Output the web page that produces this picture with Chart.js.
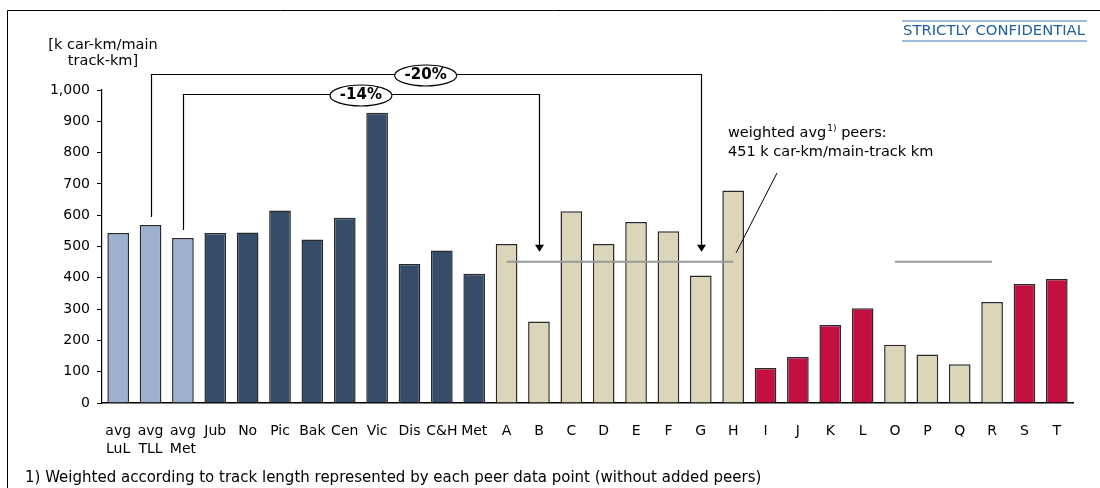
<!DOCTYPE html>
<html>
<head>
<meta charset="utf-8">
<script src="https://cdn.jsdelivr.net/npm/chart.js@4/dist/chart.umd.min.js"></script>
<style>
  html, body { margin: 0; padding: 0; background: #fff; }
  #wrap { width: 1100px; height: 488px; position: relative; }
</style>
</head>
<body>
<div id="wrap"><canvas id="chart" width="1100" height="488"></canvas></div>
<script>
// data
const categories = [['avg', 'LuL'], ['avg', 'TLL'], ['avg', 'Met'], 'Jub', 'No', 'Pic', 'Bak', 'Cen', 'Vic', 'Dis', 'C&H', 'Met',
    'A', 'B', 'C', 'D', 'E', 'F', 'G', 'H', 'I', 'J', 'K', 'L', 'O', 'P', 'Q', 'R', 'S', 'T'];
const values = [543, 569, 527, 543, 545, 615, 522, 592, 927, 444, 487, 413,
    508, 260, 613, 508, 578, 549, 407, 679, 112, 147, 249, 303, 186, 155, 124, 323, 380, 396];
const groups = ['avg', 'avg', 'avg', 'line', 'line', 'line', 'line', 'line', 'line', 'line', 'line', 'line',
    'peer', 'peer', 'peer', 'peer', 'peer', 'peer', 'peer', 'peer', 'added', 'added', 'added', 'added',
    'peer', 'peer', 'peer', 'peer', 'added', 'added'];
const peerAvg = [null, null, null, null, null, null, null, null, null, null, null, null,
    451, 451, 451, 451, 451, 451, 451, 451, null, null, null, null,
    451, 451, 451, 451, null, null];
const yTicks = [0, 100, 200, 300, 400, 500, 600, 700, 800, 900, 1000];

// bracket comparisons: from bar index -> to bar index
const brackets = [
    { from: 1, to: 18, level: 1051, labelAt: 9.5, label: '-20%' },
    { from: 2, to: 13, level: 987, labelAt: 7.5, label: '-14%' }
];

const groupColors = {
    avg: '#9DB0CF',
    line: '#364C6B',
    peer: '#DBD6BA',
    added: '#C20F3F'
};

const FONT = '"DejaVu Sans", Verdana, sans-serif';

const annotations = {
    id: 'annotations',
    beforeDraw(chart) {
        const ctx = chart.ctx;
        ctx.save();
        ctx.fillStyle = '#fff';
        ctx.fillRect(0, 0, chart.width, chart.height);
        ctx.restore();
    },
    afterDraw(chart) {
        const ctx = chart.ctx;
        const x = chart.scales.x;
        const y = chart.scales.y;
        ctx.save();

        // page frame
        ctx.strokeStyle = '#000';
        ctx.lineWidth = 1;
        ctx.beginPath();
        ctx.moveTo(7.5, 488);
        ctx.lineTo(7.5, 10.5);
        ctx.lineTo(1100, 10.5);
        ctx.stroke();

        // confidential stamp
        ctx.fillStyle = '#1F5FA0';
        ctx.font = '14.8px ' + FONT;
        ctx.textAlign = 'left';
        ctx.textBaseline = 'middle';
        ctx.fillText('STRICTLY CONFIDENTIAL', 903, 31);
        ctx.strokeStyle = '#7FA6CF';
        ctx.lineWidth = 1.5;
        ctx.beginPath();
        ctx.moveTo(902, 21); ctx.lineTo(1087, 21);
        ctx.moveTo(902, 41); ctx.lineTo(1087, 41);
        ctx.stroke();

        // axis unit
        ctx.fillStyle = '#000';
        ctx.font = '14.5px ' + FONT;
        ctx.textAlign = 'center';
        ctx.fillText('[k car-km/main', 103, 45);
        ctx.fillText('track-km]', 103, 61);

        // brackets with arrows
        ctx.strokeStyle = '#000';
        ctx.fillStyle = '#000';
        ctx.lineWidth = 1.2;
        brackets.forEach(b => {
            const x0 = Math.round(x.getPixelForValue(b.from)) + 0.5;
            const x1 = Math.round(x.getPixelForValue(b.to)) + 0.5;
            const yl = Math.round(y.getPixelForValue(b.level)) + 0.5;
            const y0 = y.getPixelForValue(values[b.from]) - 8;
            const tip = y.getPixelForValue(483);
            ctx.beginPath();
            ctx.moveTo(x0, y0);
            ctx.lineTo(x0, yl);
            ctx.lineTo(x1, yl);
            ctx.lineTo(x1, tip - 6);
            ctx.stroke();
            ctx.beginPath();
            ctx.moveTo(x1 - 4.5, tip - 7);
            ctx.lineTo(x1 + 4.5, tip - 7);
            ctx.lineTo(x1, tip);
            ctx.closePath();
            ctx.fill();

            const lx = (x.getPixelForValue(Math.floor(b.labelAt)) + x.getPixelForValue(Math.ceil(b.labelAt))) / 2;
            ctx.beginPath();
            ctx.ellipse(lx, yl + 1, 31, 10.5, 0, 0, Math.PI * 2);
            ctx.fillStyle = '#fff';
            ctx.fill();
            ctx.stroke();
            ctx.fillStyle = '#000';
            ctx.font = 'bold 15px ' + FONT;
            ctx.textAlign = 'center';
            ctx.fillText(b.label, lx, yl + 1);
        });

        // weighted average callout
        ctx.font = '14.5px ' + FONT;
        ctx.textAlign = 'left';
        let tx = 728;
        ctx.fillText('weighted avg', tx, 133);
        tx += ctx.measureText('weighted avg').width + 1;
        ctx.font = '9px ' + FONT;
        ctx.fillText('1)', tx, 129);
        tx += ctx.measureText('1)').width;
        ctx.font = '14.5px ' + FONT;
        ctx.fillText(' peers:', tx, 133);
        ctx.fillText('451 k car-km/main-track km', 728, 152);

        ctx.lineWidth = 1;
        ctx.beginPath();
        ctx.moveTo(777, 173);
        ctx.lineTo(x.getPixelForValue(19) + 3, y.getPixelForValue(480));
        ctx.stroke();

        // footnote
        ctx.font = '15px ' + FONT;
        ctx.fillText('1) Weighted according to track length represented by each peer data point (without added peers)', 25, 478);

        ctx.restore();
    }
};

new Chart(document.getElementById('chart'), {
    data: {
        labels: categories,
        datasets: [
            {
                type: 'line',
                data: peerAvg,
                borderColor: '#999999',
                borderWidth: 2,
                pointRadius: 0,
                spanGaps: false,
                order: 0
            },
            {
                type: 'bar',
                data: values,
                backgroundColor: groups.map(g => groupColors[g]),
                borderColor: '#2A2A2A',
                borderWidth: 1.5,
                barPercentage: 0.67,
                categoryPercentage: 1,
                order: 1
            }
        ]
    },
    options: {
        responsive: false,
        animation: false,
        devicePixelRatio: 1,
        layout: { padding: { left: 0, right: 27, top: 90, bottom: 0 } },
        plugins: {
            legend: { display: false },
            tooltip: { enabled: false }
        },
        scales: {
            x: {
                grid: { display: false },
                border: { display: true, color: '#000', width: 1.5 },
                ticks: {
                    color: '#000',
                    font: { family: FONT, size: 14, lineHeight: 1.3 },
                    padding: 11,
                    maxRotation: 0,
                    autoSkip: false
                },
                afterFit(scale) { scale.height = 85; }
            },
            y: {
                min: 0,
                max: 1000,
                afterBuildTicks(scale) { scale.ticks = yTicks.map(v => ({ value: v })); },
                grid: { display: true, drawOnChartArea: false, drawTicks: true, tickLength: 5, color: '#000' },
                border: { display: true, color: '#000', width: 1.2 },
                ticks: {
                    color: '#000',
                    font: { family: FONT, size: 14 },
                    padding: 7,
                    callback: v => v.toLocaleString('en-US')
                },
                afterFit(scale) { scale.width = 102; }
            }
        }
    },
    plugins: [annotations]
});
</script>
</body>
</html>
